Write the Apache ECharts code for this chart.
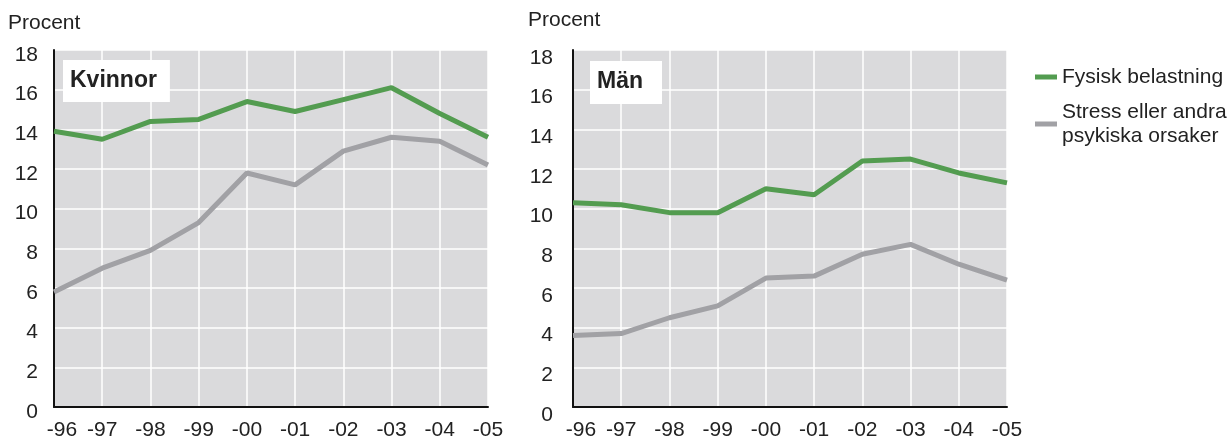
<!DOCTYPE html>
<html>
<head>
<meta charset="utf-8">
<script src="https://cdn.jsdelivr.net/npm/echarts@6/dist/echarts.min.js"></script>
<style>
html,body{margin:0;padding:0;background:#fff;}
#chart{width:1231px;height:441px;}
</style>
</head>
<body>
<div id="chart"></div>
<script>
// ---- data ----
var years = ['-96', '-97', '-98', '-99', '-00', '-01', '-02', '-03', '-04', '-05'];
var yTicks = [0, 2, 4, 6, 8, 10, 12, 14, 16, 18];
var seriesNames = ['Fysisk belastning', 'Stress eller andra psykiska orsaker'];
var panelTitles = ['Kvinnor', 'Män'];
var unitLabel = 'Procent';
var kvinnorFysisk = [13.9, 13.5, 14.4, 14.5, 15.4, 14.9, 15.5, 16.1, 14.8, 13.6];
var kvinnorStress = [5.8, 7.0, 7.9, 9.3, 11.8, 11.2, 12.9, 13.6, 13.4, 12.2];
var manFysisk = [10.3, 10.2, 9.8, 9.8, 11.0, 10.7, 12.4, 12.5, 11.8, 11.3];
var manStress = [3.6, 3.7, 4.5, 5.1, 6.5, 6.6, 7.7, 8.2, 7.2, 6.4];

var GREEN = '#539c50';
var GRAY = '#a1a1a5';
var TEXT = '#222222';
var FONT = 'Liberation Sans, Arial, sans-serif';
var FS = 21;

function xAxisCfg(gi) {
  return {
    type: 'category', gridIndex: gi, data: years, boundaryGap: false,
    axisLine: {show: true, lineStyle: {color: '#111', width: 2}},
    axisTick: {show: false},
    splitLine: {show: true, lineStyle: {color: '#ffffff', width: 1.5}},
    axisLabel: {
      color: TEXT, fontSize: FS, fontFamily: FONT, margin: 13, interval: 0,
      formatter: function (v, i) { return i === 0 ? '{f|' + v + '}' : v; },
      rich: {f: {fontSize: FS, fontFamily: FONT, color: TEXT, padding: [0, 0, 0, 16]}}
    }
  };
}
function yAxisCfg(gi, margin, shift) {
  return {
    type: 'value', gridIndex: gi, min: yTicks[0], max: yTicks[yTicks.length - 1], interval: 2,
    axisLine: {show: true, lineStyle: {color: '#111', width: 2}},
    axisTick: {show: false},
    splitLine: {show: true, lineStyle: {color: '#ffffff', width: 1.5}},
    axisLabel: {
      color: TEXT, fontSize: FS, fontFamily: FONT, margin: margin,
      formatter: function (v) { return '{y|' + v + '}'; },
      rich: {y: {fontSize: FS, fontFamily: FONT, color: TEXT, padding: [shift, 0, 0, 0]}}
    }
  };
}
function lineSeries(name, data, color, gi) {
  return {
    name: name, type: 'line', xAxisIndex: gi, yAxisIndex: gi, data: data,
    symbol: 'none', lineStyle: {color: color, width: 5}, itemStyle: {color: color},
    z: 3
  };
}

var chart = echarts.init(document.getElementById('chart'), null, {renderer: 'canvas'});
chart.setOption({
  animation: false,
  backgroundColor: '#ffffff',
  textStyle: {fontFamily: FONT},
  grid: [
    {left: 54, top: 50, width: 434, height: 360, show: true, backgroundColor: '#dadadc', borderWidth: 0},
    {left: 573, top: 50, width: 434, height: 360, show: true, backgroundColor: '#dadadc', borderWidth: 0}
  ],
  xAxis: [xAxisCfg(0), xAxisCfg(1)],
  yAxis: [yAxisCfg(0, 16, 10), yAxisCfg(1, 20, 16)],
  title: [
    {text: panelTitles[0], left: 63, top: 60, backgroundColor: '#ffffff', padding: [9, 13, 9, 7],
     textStyle: {fontSize: 23, fontWeight: 'bold', color: TEXT, fontFamily: FONT, lineHeight: 24}},
    {text: panelTitles[1], left: 590, top: 61, backgroundColor: '#ffffff', padding: [9, 19, 10, 7],
     textStyle: {fontSize: 23, fontWeight: 'bold', color: TEXT, fontFamily: FONT, lineHeight: 24}},
    {text: unitLabel, left: 8, top: 11, padding: 0,
     textStyle: {fontSize: FS, fontWeight: 'normal', color: TEXT, fontFamily: FONT, lineHeight: 24}},
    {text: unitLabel, left: 528, top: 8, padding: 0,
     textStyle: {fontSize: FS, fontWeight: 'normal', color: TEXT, fontFamily: FONT, lineHeight: 24}}
  ],
  legend: [
    {data: [seriesNames[0]], left: 1035, top: 65, orient: 'vertical', padding: 0,
     icon: 'rect', itemWidth: 22, itemHeight: 5, itemGap: 5,
     textStyle: {fontSize: FS, color: TEXT, fontFamily: FONT, lineHeight: 24}},
    {data: [seriesNames[1]], left: 1035, top: 88, orient: 'vertical', padding: 0,
     icon: 'rect', itemWidth: 22, itemHeight: 5, itemGap: 5,
     formatter: function () { return 'Stress eller andra\npsykiska orsaker'; },
     textStyle: {fontSize: FS, color: TEXT, fontFamily: FONT, lineHeight: 24, padding: [24, 0, 0, 0]}}
  ],
  series: [
    lineSeries(seriesNames[0], kvinnorFysisk, GREEN, 0),
    lineSeries(seriesNames[1], kvinnorStress, GRAY, 0),
    lineSeries(seriesNames[0], manFysisk, GREEN, 1),
    lineSeries(seriesNames[1], manStress, GRAY, 1)
  ]
});
</script>
</body>
</html>
